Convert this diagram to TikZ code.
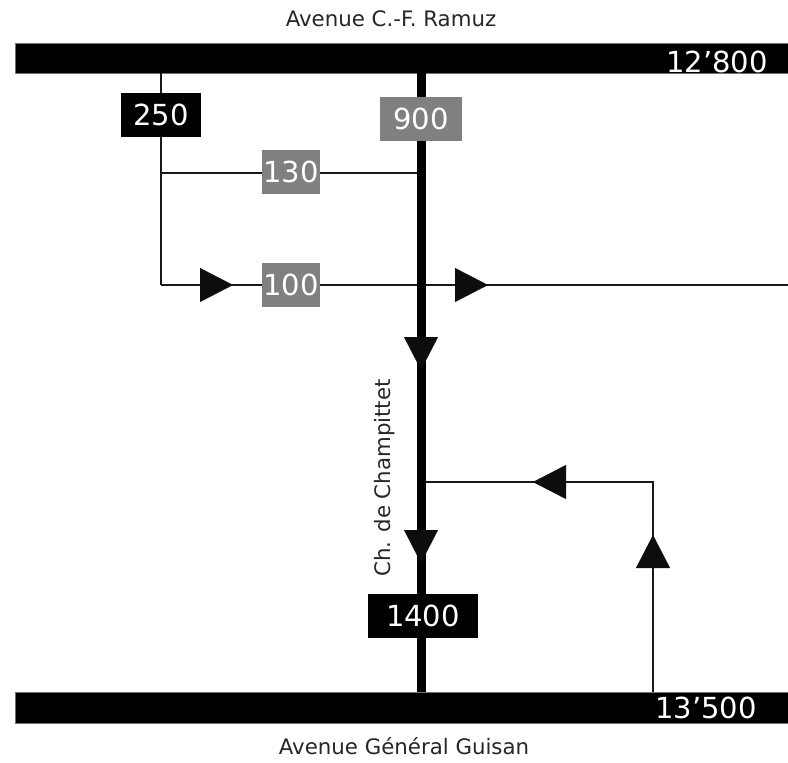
\documentclass[tikz,border=0pt]{standalone}
\usepackage{fontspec}
\setmainfont{DejaVu Sans}
\usetikzlibrary{arrows.meta,decorations.markings,positioning}

\begin{document}
\begin{tikzpicture}[x=1pt,y=-1pt,
	road/.style={fill=black,draw=black!55,line width=0.6pt,minimum width=773pt,inner sep=0pt},
	roadname/.style={font=\fontsize{21.3}{21.3}\selectfont,text=black!85,inner sep=0pt},
	count/.style={font=\fontsize{29}{29}\selectfont,text=white,inner sep=0pt},
	box/.style={count,text height=21pt,text depth=0pt,minimum height=44pt},
	blackbox/.style={box,fill=black},
	greybox/.style={box,fill=black!50},
	thinline/.style={line width=1.5pt,black!90},
	mainline/.style={line width=9pt,black},
	tri/.tip={Triangle[length=33pt,width=34pt,line width=0.1pt,color=black!95]},
	flow/.style={postaction={decorate,decoration={markings,mark=at position #1 with {\arrow{tri}}}}}]
	\useasboundingbox (0,0) rectangle (788,763);

	\node[road,minimum height=30pt](ramuz) at (401.5,58) {};
	\node[road,minimum height=31pt](guisan) at (401.5,707.5) {};
	\node[roadname](ramuz_name) at (391,19) {Avenue C.-F. Ramuz};
	\node[roadname](guisan_name) at (404,746) {Avenue Général Guisan};
	\node[count,anchor=base east](ramuz_count) at (768,72) {12’800};
	\node[count,anchor=base east](guisan_count) at (757,718) {13’500};

	\coordinate (c_top) at (421,73);
	\coordinate (c_bot) at (421,692);
	\coordinate (c_130) at (421,173);
	\coordinate (c_in) at (421,482);
	\coordinate (w_top) at (161,73);
	\coordinate (w_130) at (161,173);
	\coordinate (w_100) at (161,285);
	\coordinate (e_100) at (788,285);
	\coordinate (s_top) at (653,482);
	\coordinate (s_bot) at (653,692);

	% lines
	\draw[thinline] (w_top) -- (w_100);
	\draw[thinline] (w_130) -- (c_130);
	\draw[thinline,flow=72pt,flow=327pt] (w_100) -- (e_100);
	\draw[thinline,flow=157pt,flow=330pt] (s_bot) -- (s_top) -- (c_in);
	\draw[mainline,flow=297pt,flow=490pt] (c_top) -- (c_bot);

	\node[roadname,rotate=90](champ_name) at (385,478) {Ch. de Champittet};

	% counts
	\node[blackbox,minimum width=80pt](n_250) at (161,115) {250};
	\node[greybox,minimum width=82pt](n_900) at (421,119) {900};
	\node[greybox,minimum width=58pt](n_130) at (291,172) {130};
	\node[greybox,minimum width=58pt](n_100) at (291,284.5) {100};
	\node[blackbox,minimum width=110pt](n_1400) at (423,616) {1400};
\end{tikzpicture}
\end{document}
